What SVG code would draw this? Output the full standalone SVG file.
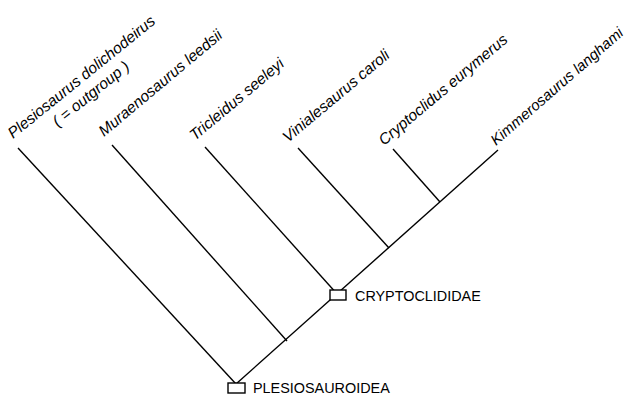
<svg xmlns="http://www.w3.org/2000/svg" width="634" height="395" viewBox="0 0 634 395">
<style>
.edge{stroke:#000;stroke-width:1.4;fill:none}
.taxon{font-family:"Liberation Sans",Arial,sans-serif;font-style:italic;font-size:15.5px;fill:#000}
.clade{font-family:"Liberation Sans",Arial,sans-serif;font-size:14.4px;fill:#000}
.box{fill:#fff;stroke:#000;stroke-width:1.4}
</style>
<rect width="634" height="395" fill="#fff"/>
<g id="connectors">
<line class="edge" x1="18" y1="148" x2="236" y2="384"/>
<line class="edge" x1="236" y1="384" x2="498" y2="150"/>
<line class="edge" x1="112" y1="145" x2="287" y2="341"/>
<line class="edge" x1="205" y1="147" x2="338" y2="295"/>
<line class="edge" x1="298" y1="148" x2="389" y2="248"/>
<line class="edge" x1="393" y1="149" x2="440" y2="202"/>
</g>
<g id="plesiosaurus">
<text class="taxon" transform="translate(13,139) rotate(-39)">Plesiosaurus dolichodeirus</text>
<text class="taxon" transform="translate(13,139) rotate(-39)" x="89" y="19" text-anchor="middle">( = outgroup )</text>
</g>
<g id="muraenosaurus">
<text class="taxon" transform="translate(104,137) rotate(-40)">Muraenosaurus leedsii</text>
</g>
<g id="tricleidus">
<text class="taxon" transform="translate(195,141) rotate(-40)">Tricleidus seeleyi</text>
</g>
<g id="vinialesaurus">
<text class="taxon" transform="translate(288,143) rotate(-40)">Vinialesaurus caroli</text>
</g>
<g id="cryptoclidus">
<text class="taxon" transform="translate(384,146) rotate(-40)">Cryptoclidus eurymerus</text>
</g>
<g id="kimmerosaurus">
<text class="taxon" style="font-size:15px" transform="translate(496,146) rotate(-41)">Kimmerosaurus langhami</text>
</g>
<g id="cryptoclididae">
<rect class="box" x="330" y="290" width="16" height="10"/>
<text class="clade" x="355" y="301">CRYPTOCLIDIDAE</text>
</g>
<g id="plesiosauroidea">
<rect class="box" x="228" y="383" width="17" height="10"/>
<text class="clade" x="253" y="393">PLESIOSAUROIDEA</text>
</g>
</svg>
